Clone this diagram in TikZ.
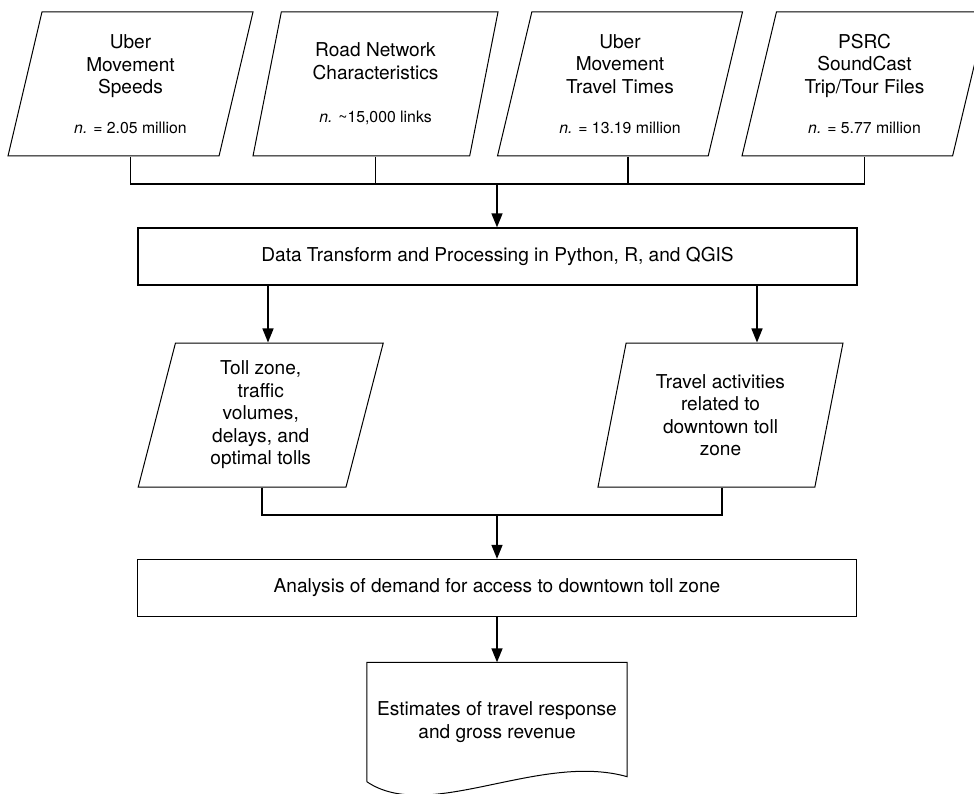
\documentclass[tikz,border=0pt]{standalone}
\usepackage{fontspec}
\setmainfont{TeX Gyre Heros}
\usepackage{tikz}
\usetikzlibrary{shapes.geometric,arrows.meta,calc}
\newcommand{\nobs}[1]{{\fontsize{15.8}{19}\selectfont\textit{n.} #1}}

\begin{document}
\begin{tikzpicture}[x=1pt,y=-1pt,
    font=\fontsize{19.1}{22.5}\selectfont,
    data/.style={draw,line width=1pt,trapezium,trapezium left angle=71,trapezium right angle=109,
      trapezium stretches body,minimum width=245pt,minimum height=144pt,align=center,inner sep=0pt},
    proc/.style={draw,line width=1.3pt,minimum width=719pt,minimum height=57pt},
    link/.style={line width=1.5pt},
    flow/.style={line width=1.5pt,-{Triangle[length=14pt,width=11pt]}}]
\clip (0,0) rectangle (974,794);
      \begin{scope}
\node[data] (a) at (130.5,84) {Uber\\Movement\\Speeds\\[17pt]\nobs{= 2.05 million}};
\node[data] (b) at (375.5,84) {Road Network\\Characteristics\\[21pt]\nobs{\textasciitilde15,000 links}};
\node[data] (c) at (620,84) {Uber\\Movement\\Travel Times\\[18pt]\nobs{= 13.19 million}};
\node[data] (d) at (864.5,84) {PSRC\\SoundCast\\Trip/Tour Files\\[18pt]\nobs{= 5.77 million}};
\coordinate (j1) at (497,184);
\draw[link] (a.south) -- (a.south |- j1) -- (d.south |- j1) -- (d.south);
\draw[link] (b.south) -- (b.south |- j1);
\draw[link] ([xshift=8pt]c.south) -- ([xshift=8pt]c.south |- j1);
\end{scope}
      \begin{scope}
\node[proc] (p) at (497.5,256.5) {Data Transform and Processing in Python, R, and QGIS};
\node[data] (e) at (260.75,415) {Toll zone,\\traffic\\volumes,\\delays, and\\optimal tolls};
\node[data] (f) at (720.5,415) {Travel activities\\related to\\downtown toll\\zone};
\draw[flow] (j1) -- (j1 |- p.north);
\draw[flow] (p.south -| 268,0) -- (e.north -| 268,0);
\draw[flow] (p.south -| 757,0) -- (f.north -| 757,0);
\coordinate (j2) at (497,515);
\draw[link] ([xshift=1pt]e.south) -- ([xshift=1pt]e.south |- j2) -- ([xshift=1.5pt]f.south |- j2) -- ([xshift=1.5pt]f.south);
\end{scope}
      \begin{scope}
\node[proc] (q) at (497,588) {Analysis of demand for access to downtown toll zone};
\node[minimum width=260pt,minimum height=119pt,align=center] (est) at (497,722) {Estimates of travel response\\and gross revenue};
\draw[line width=1pt] (est.south west) -- (est.north west) -- (est.north east) -- ($(est.south east)+(0,-5)$)
  .. controls +(-88,-25) and +(62,42) .. (est.south west);
\draw[flow] (j2) -- (j2 |- q.north);
\draw[flow] (q.south) -- (est.north);
\end{scope}
    \end{tikzpicture}
\end{document}
